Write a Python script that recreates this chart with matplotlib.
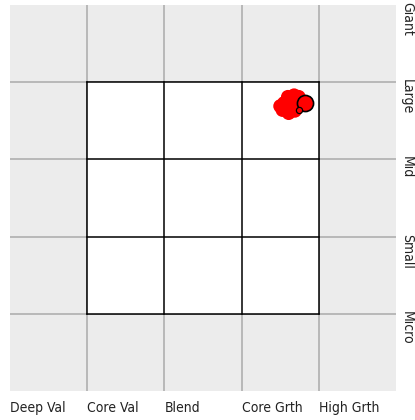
import matplotlib
matplotlib.use('Agg')
import matplotlib.pyplot as plt
from matplotlib.patches import Rectangle
from matplotlib.transforms import blended_transform_factory

plt.rcParams['font.family'] = ['DejaVu Sans']
plt.rcParams['font.stretch'] = 'condensed'

# style box categories
styles = ['Deep Val', 'Core Val', 'Blend', 'Core Grth', 'High Grth']
sizes = ['Giant', 'Large', 'Mid', 'Small', 'Micro']

# holdings (style score, size score)
hold_x = [3.55, 3.60, 3.68, 3.74, 3.53, 3.61, 3.69, 3.76, 3.64, 3.70, 3.57, 3.78, 3.50]
hold_y = [3.73, 3.81, 3.83, 3.81, 3.64, 3.60, 3.63, 3.70, 3.72, 3.76, 3.67, 3.76, 3.69]

# fund centroid and small marker
cent_x, cent_y = 3.82, 3.73
small_x, small_y = 3.74, 3.64

fig = plt.figure(figsize=(4.15, 4.2), dpi=100)
ax = fig.add_axes([10/415, 29/420, 386/415, 386/420])
ax.set_xlim(0, 5)
ax.set_ylim(0, 5)
ax.set_facecolor('#ececec')
for s in ax.spines.values():
    s.set_visible(False)
ax.set_xticks([])
ax.set_yticks([])

for v in range(1, 5):
    ax.axvline(v, color='#b4b4b4', lw=1.3, zorder=1)
    ax.axhline(v, color='#b4b4b4', lw=1.3, zorder=1)

ax.add_patch(Rectangle((1, 1), 3, 3, facecolor='white', edgecolor='none', zorder=2))
for v in range(1, 5):
    ax.plot([v, v], [1, 4], color='black', lw=1.1, zorder=3)
    ax.plot([1, 4], [v, v], color='black', lw=1.1, zorder=3)

ax.scatter(hold_x, hold_y, s=100, color='red', edgecolors='none', zorder=4)
ax.scatter([cent_x], [cent_y], s=135, color='red', edgecolors='black', linewidths=1.2, zorder=5)
ax.scatter([small_x], [small_y], s=20, color='red', edgecolors='black', linewidths=0.9, zorder=5)

tx = blended_transform_factory(ax.transData, fig.transFigure)
for i, lab in enumerate(styles):
    ax.text(i, 12/420, lab, transform=tx, ha='left', va='center', fontsize=10,
            fontstretch='condensed', color='#222222')

ty = blended_transform_factory(fig.transFigure, ax.transData)
for i, lab in enumerate(sizes):
    ax.text(400/415, 5 - i + 0.04, lab, transform=ty, rotation=270, ha='left', va='top',
            fontsize=10, fontstretch='condensed', color='#222222', clip_on=False)

fig.savefig('out.png', dpi=100)
